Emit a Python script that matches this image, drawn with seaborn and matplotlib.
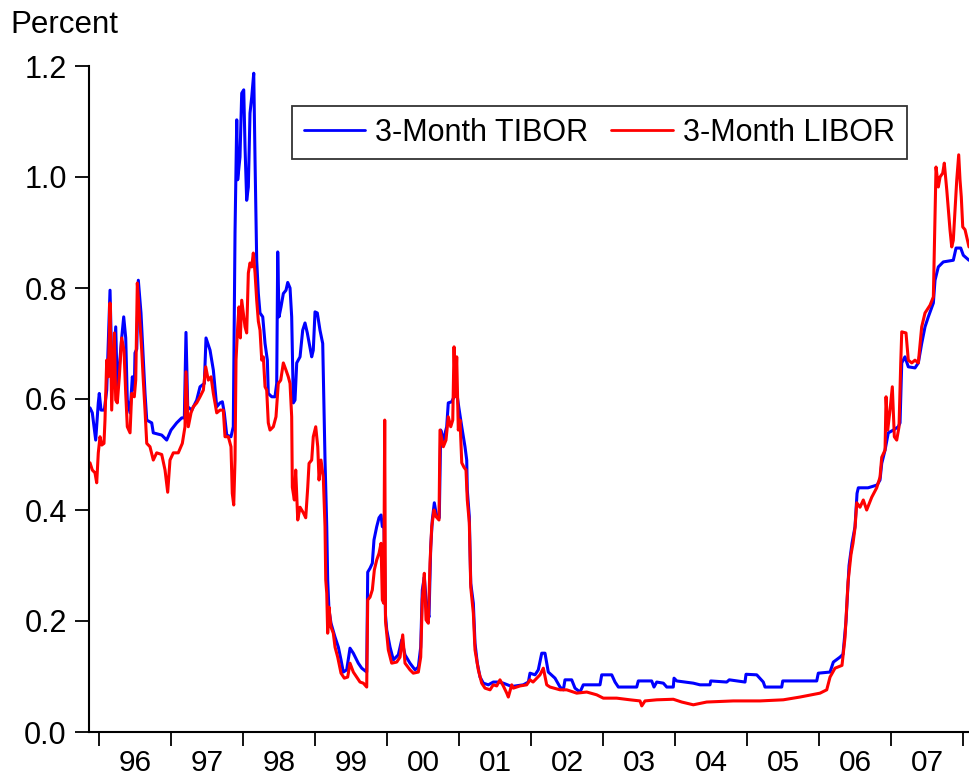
import matplotlib
matplotlib.use("Agg")
import matplotlib.pyplot as plt
import seaborn as sns
import pandas as pd
import numpy as np
from matplotlib.ticker import FixedLocator, FixedFormatter

# ---- data (decimal year, percent) ----
tibor_t = [1995.875, 1995.907, 1995.954, 1995.990, 1996.004, 1996.028, 1996.074, 1996.107, 1996.153, 1996.176,
           1996.199, 1996.232, 1996.254, 1996.282, 1996.315, 1996.343, 1996.371, 1996.393, 1996.431, 1996.463,
           1996.490, 1996.500, 1996.524, 1996.546, 1996.583, 1996.615, 1996.639, 1996.663, 1996.732, 1996.754,
           1996.871, 1996.940, 1997.000, 1997.079, 1997.149, 1997.185, 1997.208, 1997.232, 1997.288, 1997.357,
           1997.403, 1997.463, 1997.486, 1997.542, 1997.588, 1997.635, 1997.681, 1997.713, 1997.740, 1997.774,
           1997.833, 1997.865, 1997.889, 1997.913, 1997.926, 1997.958, 1997.982, 1998.010, 1998.028, 1998.051,
           1998.074, 1998.097, 1998.121, 1998.149, 1998.167, 1998.190, 1998.213, 1998.236, 1998.274, 1998.306,
           1998.338, 1998.351, 1998.399, 1998.444, 1998.468, 1998.482, 1998.500, 1998.528, 1998.560, 1998.597,
           1998.621, 1998.653, 1998.676, 1998.699, 1998.722, 1998.746, 1998.792, 1998.829, 1998.861, 1998.893,
           1998.954, 1998.976, 1999.000, 1999.032, 1999.069, 1999.107, 1999.125, 1999.139, 1999.163, 1999.176,
           1999.194, 1999.222, 1999.278, 1999.324, 1999.361, 1999.393, 1999.440, 1999.486, 1999.532, 1999.601,
           1999.649, 1999.718, 1999.732, 1999.764, 1999.796, 1999.819, 1999.857, 1999.889, 1999.917, 1999.935,
           1999.958, 1999.979, 1999.996, 2000.042, 2000.088, 2000.157, 2000.204, 2000.250, 2000.319, 2000.389,
           2000.435, 2000.468, 2000.490, 2000.518, 2000.551, 2000.583, 2000.607, 2000.629, 2000.657, 2000.690,
           2000.726, 2000.746, 2000.782, 2000.829, 2000.851, 2000.899, 2000.931, 2000.958, 2000.996, 2001.038,
           2001.083, 2001.107, 2001.115, 2001.143, 2001.163, 2001.199, 2001.222, 2001.254, 2001.292, 2001.338,
           2001.407, 2001.476, 2001.546, 2001.615, 2001.732, 2001.893, 2001.963, 2001.986, 2002.056, 2002.101,
           2002.149, 2002.194, 2002.240, 2002.333, 2002.403, 2002.449, 2002.472, 2002.565, 2002.611, 2002.681,
           2002.726, 2002.958, 2002.982, 2003.121, 2003.167, 2003.213, 2003.468, 2003.490, 2003.676, 2003.708,
           2003.746, 2003.838, 2003.885, 2003.976, 2003.986, 2004.024, 2004.254, 2004.347, 2004.486, 2004.496,
           2004.718, 2004.754, 2004.972, 2004.986, 2005.135, 2005.226, 2005.250, 2005.482, 2005.496, 2005.968,
           2005.990, 2006.153, 2006.199, 2006.292, 2006.333, 2006.375, 2006.417, 2006.458, 2006.500, 2006.528,
           2006.546, 2006.681, 2006.806, 2006.847, 2006.871, 2006.917, 2006.962, 2007.032, 2007.101, 2007.125,
           2007.149, 2007.194, 2007.240, 2007.333, 2007.379, 2007.426, 2007.472, 2007.518, 2007.588, 2007.611,
           2007.657, 2007.726, 2007.865, 2007.903, 2007.968, 2008.004, 2008.083]
tibor_v = [0.584, 0.575, 0.526, 0.593, 0.610, 0.580, 0.580, 0.616, 0.796, 0.670,
           0.640, 0.730, 0.616, 0.658, 0.710, 0.748, 0.710, 0.598, 0.575, 0.640,
           0.616, 0.683, 0.690, 0.814, 0.755, 0.670, 0.610, 0.562, 0.557, 0.539,
           0.535, 0.526, 0.544, 0.557, 0.566, 0.566, 0.720, 0.586, 0.580, 0.598,
           0.622, 0.628, 0.710, 0.688, 0.652, 0.586, 0.593, 0.595, 0.575, 0.535,
           0.532, 0.550, 0.900, 1.103, 0.995, 1.036, 1.151, 1.157, 1.054, 0.958,
           0.982, 1.115, 1.144, 1.187, 1.030, 0.850, 0.790, 0.755, 0.748, 0.700,
           0.670, 0.610, 0.604, 0.604, 0.628, 0.865, 0.748, 0.766, 0.790, 0.796,
           0.810, 0.800, 0.748, 0.593, 0.598, 0.665, 0.676, 0.724, 0.737, 0.719,
           0.676, 0.688, 0.757, 0.755, 0.724, 0.700, 0.580, 0.490, 0.370, 0.274,
           0.220, 0.196, 0.171, 0.153, 0.130, 0.108, 0.112, 0.151, 0.142, 0.124,
           0.115, 0.108, 0.288, 0.295, 0.304, 0.346, 0.370, 0.386, 0.391, 0.370,
           0.370, 0.210, 0.184, 0.153, 0.130, 0.139, 0.166, 0.139, 0.124, 0.112,
           0.117, 0.153, 0.256, 0.279, 0.225, 0.207, 0.333, 0.382, 0.413, 0.388,
           0.386, 0.544, 0.526, 0.550, 0.593, 0.595, 0.604, 0.622, 0.586, 0.550,
           0.514, 0.490, 0.436, 0.388, 0.268, 0.232, 0.160, 0.124, 0.099, 0.088,
           0.085, 0.090, 0.090, 0.088, 0.082, 0.085, 0.090, 0.106, 0.103, 0.112,
           0.142, 0.142, 0.108, 0.097, 0.081, 0.076, 0.094, 0.094, 0.079, 0.072,
           0.085, 0.085, 0.103, 0.103, 0.090, 0.081, 0.081, 0.092, 0.092, 0.081,
           0.090, 0.088, 0.081, 0.081, 0.097, 0.092, 0.088, 0.085, 0.085, 0.092,
           0.090, 0.094, 0.090, 0.104, 0.103, 0.090, 0.081, 0.081, 0.092, 0.092,
           0.106, 0.108, 0.126, 0.135, 0.140, 0.200, 0.300, 0.340, 0.370, 0.430,
           0.440, 0.440, 0.445, 0.454, 0.484, 0.508, 0.539, 0.544, 0.550, 0.557,
           0.665, 0.676, 0.658, 0.656, 0.665, 0.700, 0.730, 0.748, 0.773, 0.814,
           0.838, 0.847, 0.850, 0.872, 0.872, 0.859, 0.850]

libor_t = [1995.875, 1995.907, 1995.944, 1995.968, 1995.990, 1996.014, 1996.038, 1996.069, 1996.083, 1996.107,
           1996.129, 1996.153, 1996.176, 1996.213, 1996.232, 1996.254, 1996.282, 1996.315, 1996.347, 1996.371,
           1996.393, 1996.431, 1996.454, 1996.490, 1996.510, 1996.532, 1996.560, 1996.593, 1996.615, 1996.639,
           1996.663, 1996.708, 1996.754, 1996.801, 1996.871, 1996.917, 1996.954, 1996.986, 1997.032, 1997.101,
           1997.157, 1997.194, 1997.208, 1997.240, 1997.278, 1997.310, 1997.357, 1997.403, 1997.449, 1997.482,
           1997.518, 1997.556, 1997.588, 1997.635, 1997.681, 1997.726, 1997.750, 1997.796, 1997.833, 1997.851,
           1997.871, 1997.889, 1997.903, 1997.926, 1997.944, 1997.963, 1997.982, 1998.004, 1998.028, 1998.051,
           1998.074, 1998.097, 1998.121, 1998.143, 1998.167, 1998.190, 1998.213, 1998.236, 1998.260, 1998.282,
           1998.306, 1998.329, 1998.351, 1998.375, 1998.421, 1998.458, 1998.490, 1998.524, 1998.560, 1998.597,
           1998.629, 1998.653, 1998.676, 1998.685, 1998.713, 1998.732, 1998.760, 1998.792, 1998.838, 1998.871,
           1998.899, 1998.917, 1998.954, 1998.976, 1999.010, 1999.038, 1999.056, 1999.083, 1999.115, 1999.139,
           1999.149, 1999.163, 1999.176, 1999.194, 1999.222, 1999.254, 1999.278, 1999.315, 1999.361, 1999.407,
           1999.454, 1999.486, 1999.532, 1999.579, 1999.625, 1999.671, 1999.718, 1999.732, 1999.764, 1999.796,
           1999.824, 1999.857, 1999.889, 1999.917, 1999.935, 1999.954, 1999.968, 1999.979, 2000.018, 2000.065,
           2000.135, 2000.181, 2000.218, 2000.250, 2000.319, 2000.365, 2000.435, 2000.468, 2000.490, 2000.518,
           2000.542, 2000.574, 2000.597, 2000.621, 2000.653, 2000.681, 2000.722, 2000.736, 2000.782, 2000.819,
           2000.851, 2000.885, 2000.913, 2000.931, 2000.949, 2000.968, 2000.990, 2001.014, 2001.038, 2001.069,
           2001.097, 2001.115, 2001.143, 2001.163, 2001.199, 2001.222, 2001.268, 2001.315, 2001.361, 2001.431,
           2001.476, 2001.524, 2001.569, 2001.615, 2001.663, 2001.685, 2001.732, 2001.754, 2001.847, 2001.940,
           2001.986, 2002.028, 2002.125, 2002.171, 2002.218, 2002.264, 2002.403, 2002.496, 2002.635, 2002.774,
           2002.912, 2003.004, 2003.190, 2003.375, 2003.514, 2003.538, 2003.583, 2003.746, 2003.976, 2004.093,
           2004.254, 2004.440, 2004.810, 2005.181, 2005.504, 2005.736, 2006.014, 2006.107, 2006.153, 2006.222,
           2006.319, 2006.361, 2006.403, 2006.444, 2006.472, 2006.500, 2006.524, 2006.569, 2006.615, 2006.662,
           2006.732, 2006.801, 2006.847, 2006.871, 2006.917, 2006.931, 2006.954, 2006.986, 2007.018, 2007.046,
           2007.079, 2007.111, 2007.135, 2007.149, 2007.208, 2007.240, 2007.288, 2007.333, 2007.379, 2007.426,
           2007.472, 2007.542, 2007.588, 2007.611, 2007.625, 2007.657, 2007.681, 2007.718, 2007.740, 2007.774,
           2007.819, 2007.843, 2007.865, 2007.913, 2007.940, 2007.958, 2007.976, 2007.996, 2008.028, 2008.051,
           2008.083]
libor_v = [0.485, 0.472, 0.467, 0.449, 0.503, 0.532, 0.517, 0.520, 0.562, 0.670,
           0.640, 0.773, 0.580, 0.719, 0.598, 0.593, 0.640, 0.710, 0.688, 0.610,
           0.550, 0.539, 0.610, 0.604, 0.634, 0.809, 0.755, 0.688, 0.634, 0.580,
           0.520, 0.514, 0.490, 0.503, 0.500, 0.472, 0.432, 0.490, 0.503, 0.503,
           0.520, 0.550, 0.649, 0.550, 0.575, 0.586, 0.593, 0.604, 0.616, 0.658,
           0.634, 0.640, 0.610, 0.575, 0.580, 0.580, 0.532, 0.532, 0.514, 0.430,
           0.409, 0.490, 0.670, 0.730, 0.766, 0.710, 0.778, 0.755, 0.730, 0.719,
           0.827, 0.845, 0.838, 0.863, 0.827, 0.778, 0.740, 0.724, 0.670, 0.676,
           0.622, 0.616, 0.557, 0.544, 0.550, 0.568, 0.628, 0.634, 0.665, 0.652,
           0.640, 0.628, 0.568, 0.441, 0.418, 0.472, 0.382, 0.405, 0.395, 0.386,
           0.441, 0.484, 0.490, 0.532, 0.550, 0.514, 0.454, 0.490, 0.459, 0.370,
           0.274, 0.250, 0.178, 0.225, 0.189, 0.178, 0.153, 0.135, 0.106, 0.097,
           0.099, 0.124, 0.108, 0.099, 0.090, 0.088, 0.081, 0.238, 0.243, 0.256,
           0.292, 0.310, 0.322, 0.340, 0.238, 0.232, 0.562, 0.200, 0.148, 0.124,
           0.126, 0.135, 0.175, 0.124, 0.112, 0.106, 0.108, 0.135, 0.238, 0.286,
           0.202, 0.196, 0.304, 0.370, 0.400, 0.388, 0.382, 0.544, 0.514, 0.526,
           0.568, 0.550, 0.562, 0.694, 0.604, 0.676, 0.544, 0.562, 0.485, 0.477,
           0.472, 0.418, 0.377, 0.261, 0.214, 0.148, 0.112, 0.088, 0.079, 0.076,
           0.085, 0.083, 0.094, 0.083, 0.070, 0.063, 0.085, 0.079, 0.083, 0.085,
           0.094, 0.090, 0.103, 0.115, 0.085, 0.081, 0.076, 0.076, 0.070, 0.072,
           0.067, 0.061, 0.061, 0.058, 0.056, 0.047, 0.056, 0.058, 0.059, 0.054,
           0.049, 0.054, 0.056, 0.056, 0.058, 0.063, 0.070, 0.076, 0.099, 0.115,
           0.120, 0.170, 0.270, 0.320, 0.340, 0.368, 0.413, 0.405, 0.418, 0.400,
           0.423, 0.440, 0.459, 0.495, 0.508, 0.604, 0.544, 0.580, 0.622, 0.532,
           0.526, 0.550, 0.665, 0.721, 0.719, 0.670, 0.665, 0.670, 0.665, 0.730,
           0.755, 0.769, 0.784, 0.928, 1.018, 0.982, 1.000, 1.007, 1.025, 0.977,
           0.905, 0.874, 0.886, 0.995, 1.040, 0.995, 0.964, 0.910, 0.905, 0.892,
           0.874]

series_names = ["3-Month TIBOR", "3-Month LIBOR"]
series_colors = ["#0000FF", "#FF0000"]
year_labels = ["96", "97", "98", "99", "00", "01", "02", "03", "04", "05", "06", "07"]
y_ticks = [0.0, 0.2, 0.4, 0.6, 0.8, 1.0, 1.2]

df = pd.concat([
    pd.DataFrame({"date": tibor_t, "rate": tibor_v, "series": series_names[0]}),
    pd.DataFrame({"date": libor_t, "rate": libor_v, "series": series_names[1]}),
], ignore_index=True)

sns.set_style("white")
plt.rcParams["font.family"] = ["Liberation Sans", "DejaVu Sans"]
plt.rcParams["text.color"] = "black"
plt.rcParams["xtick.color"] = "black"
plt.rcParams["ytick.color"] = "black"
plt.rcParams["axes.labelcolor"] = "black"

W, H = 969, 778
fig = plt.figure(figsize=(W / 100, H / 100), dpi=100)
ax = fig.add_axes([89 / W, (H - 732) / H, (969 - 89) / W, (732 - 66) / H])

sns.lineplot(data=df, x="date", y="rate", hue="series", hue_order=series_names,
             palette=series_colors, linewidth=2.2, errorbar=None, sort=True,
             estimator=None, ax=ax)

ax.set_xlim(1995.861, 2008.083)
ax.set_ylim(0, 1.2)
ax.set_xlabel("")
ax.set_ylabel("")

for s in ["top", "right"]:
    ax.spines[s].set_visible(False)
for s in ["left", "bottom"]:
    ax.spines[s].set_color("black")
    ax.spines[s].set_linewidth(1.5)

years = list(range(1996, 2009))
ax.xaxis.set_major_locator(FixedLocator(years))
ax.xaxis.set_major_formatter(FixedFormatter([""] * len(years)))
mids = [y + 0.5 for y in range(1996, 2008)]
ax.xaxis.set_minor_locator(FixedLocator(mids))
ax.xaxis.set_minor_formatter(FixedFormatter(year_labels))
ax.tick_params(axis="x", which="major", direction="out", length=10, width=1.3,
               color="black", bottom=True)
ax.tick_params(axis="x", which="minor", length=0, pad=12, labelsize=21.5, bottom=True,
               labelcolor="black")

ax.set_yticks(y_ticks)
ax.set_yticklabels([f"{v:.1f}" for v in y_ticks])
ax.tick_params(axis="y", direction="out", length=10, width=1.3, color="black",
               left=True, pad=6, labelsize=22, labelcolor="black")

handles, labels = ax.get_legend_handles_labels()
leg = ax.legend(handles, labels, loc="upper left", bbox_to_anchor=((292 - 89) / 880, (732 - 106) / 666),
                borderaxespad=0, ncol=2, fontsize=22, frameon=True, fancybox=False,
                handlelength=2.0, handletextpad=0.35, columnspacing=0.75,
                borderpad=0.38, title=None)
leg.get_frame().set_edgecolor("black")
leg.get_frame().set_linewidth(1.3)
for t in leg.get_texts():
    t.set_color("black")
for l in leg.get_lines():
    l.set_linewidth(2.0)

fig.text(10 / W, 1 - 33 / H, "Percent", fontsize=22.5, ha="left", va="baseline", color="black")

fig.savefig("out.png", dpi=100)
